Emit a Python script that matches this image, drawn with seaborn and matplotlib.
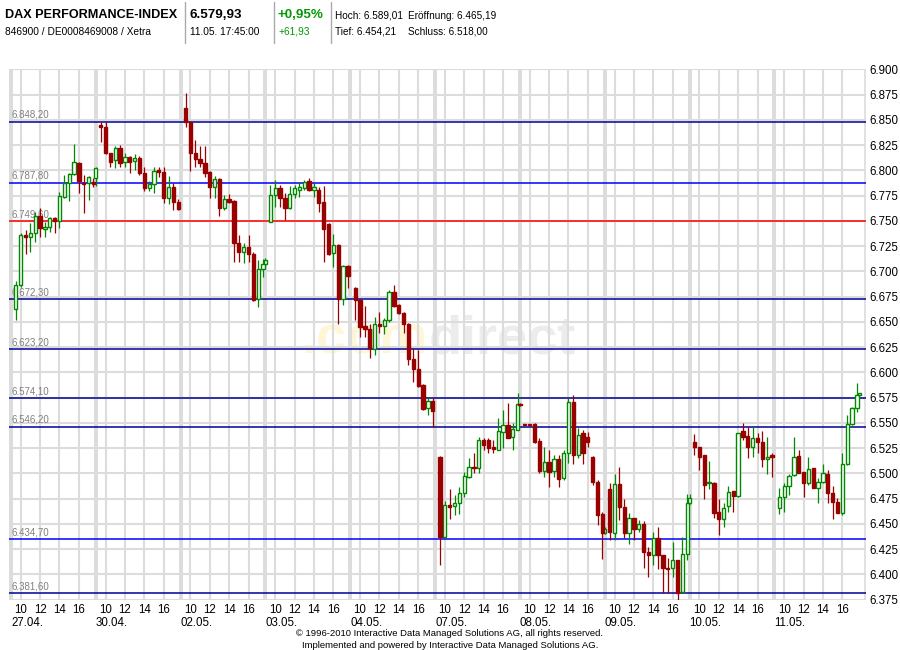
import numpy as np
import pandas as pd
import matplotlib
matplotlib.use("Agg")
import matplotlib.pyplot as plt
import matplotlib.transforms as mtransforms
import seaborn as sns

# ---------------- data ----------------
day_labels = ["27.04.", "30.04.", "02.05.", "03.05.", "04.05.",
              "07.05.", "08.05.", "09.05.", "10.05.", "11.05."]
hour_labels = ["10", "12", "14", "16"]
hour_values = [10, 12, 14, 16]
candles_per_day = [18, 17, 18, 17, 17, 18, 18, 18, 17, 18]

open_ = [
    6663, 6686, 6736, 6734, 6738, 6755, 6742, 6744, 6753, 6750, 6774, 6787, 6796, 6807, 6787, 6787, 6788, 6792,
    6845, 6843, 6817, 6810, 6822, 6808, 6813, 6809, 6812, 6797, 6782, 6786, 6800, 6798, 6773, 6783, 6769,
    6862, 6848, 6817, 6811, 6807, 6798, 6783, 6791, 6763, 6772, 6770, 6728, 6719, 6724, 6717, 6673, 6702, 6707,
    6749, 6776, 6782, 6773, 6763, 6777, 6781, 6782, 6789, 6781, 6781, 6769, 6747, 6718, 6726, 6673, 6705,
    6683, 6672, 6646, 6643, 6623, 6648, 6646, 6652, 6680, 6667, 6659, 6648, 6613, 6603, 6587, 6565, 6572,
    6516, 6437, 6469, 6468, 6471, 6481, 6496, 6506, 6505, 6533, 6533, 6526, 6523, 6541, 6548, 6536, 6543, 6569,
    6549, 6549, 6549, 6532, 6502, 6511, 6502, 6514, 6495, 6520, 6571, 6518, 6540, 6536, 6516, 6491, 6460, 6441,
    6484, 6441, 6489, 6467, 6441, 6456, 6445, 6450, 6422, 6419, 6436, 6419, 6406, 6406, 6414, 6383, 6420, 6471,
    6531, 6526, 6518, 6490, 6490, 6462, 6455, 6468, 6483, 6478, 6542, 6537, 6526, 6535, 6531, 6514, 6518,
    6466, 6477, 6487, 6498, 6517, 6501, 6490, 6505, 6485, 6491, 6499, 6481, 6472, 6461, 6509, 6549, 6565, 6578,
]
high = [
    6690, 6738, 6741, 6748, 6759, 6763, 6749, 6754, 6754, 6779, 6795, 6797, 6826, 6808, 6795, 6794, 6792, 6803,
    6848, 6848, 6817, 6824, 6825, 6817, 6814, 6816, 6814, 6803, 6789, 6803, 6803, 6803, 6794, 6787, 6772,
    6877, 6849, 6830, 6824, 6824, 6799, 6794, 6792, 6776, 6777, 6771, 6736, 6728, 6736, 6719, 6711, 6712, 6713,
    6785, 6790, 6785, 6778, 6784, 6785, 6788, 6790, 6792, 6787, 6783, 6784, 6748, 6737, 6727, 6706, 6706,
    6684, 6673, 6666, 6648, 6655, 6660, 6654, 6682, 6686, 6668, 6660, 6649, 6624, 6622, 6588, 6576, 6575,
    6517, 6473, 6484, 6479, 6486, 6501, 6515, 6520, 6536, 6535, 6535, 6533, 6555, 6563, 6570, 6550, 6580, 6570,
    6549, 6549, 6550, 6535, 6526, 6523, 6518, 6518, 6523, 6575, 6578, 6545, 6543, 6541, 6517, 6493, 6462, 6447,
    6490, 6499, 6506, 6475, 6461, 6456, 6454, 6453, 6427, 6442, 6447, 6419, 6416, 6432, 6414, 6437, 6480, 6480,
    6539, 6526, 6518, 6512, 6491, 6475, 6471, 6487, 6483, 6540, 6550, 6546, 6546, 6540, 6542, 6536, 6520,
    6485, 6490, 6499, 6536, 6523, 6501, 6516, 6505, 6495, 6509, 6503, 6487, 6476, 6520, 6558, 6566, 6589, 6580,
]
low = [
    6652, 6684, 6717, 6719, 6729, 6734, 6734, 6739, 6738, 6743, 6773, 6770, 6795, 6778, 6758, 6771, 6783, 6784,
    6828, 6816, 6803, 6802, 6803, 6803, 6797, 6800, 6795, 6780, 6780, 6778, 6793, 6768, 6767, 6761, 6761,
    6843, 6799, 6803, 6803, 6793, 6773, 6773, 6755, 6761, 6768, 6709, 6709, 6708, 6709, 6671, 6665, 6694, 6705,
    6749, 6764, 6764, 6751, 6762, 6773, 6774, 6781, 6780, 6774, 6759, 6709, 6716, 6704, 6648, 6667, 6683,
    6652, 6635, 6635, 6614, 6617, 6639, 6638, 6650, 6665, 6658, 6639, 6607, 6590, 6585, 6563, 6558, 6546,
    6409, 6436, 6455, 6459, 6460, 6477, 6495, 6500, 6500, 6523, 6520, 6520, 6523, 6525, 6535, 6523, 6543, 6567,
    6548, 6548, 6530, 6500, 6496, 6486, 6496, 6486, 6493, 6510, 6509, 6515, 6509, 6526, 6488, 6449, 6415, 6440,
    6434, 6434, 6454, 6436, 6430, 6434, 6442, 6406, 6397, 6409, 6405, 6382, 6382, 6397, 6375, 6382, 6414, 6470,
    6518, 6503, 6475, 6484, 6456, 6439, 6447, 6462, 6462, 6477, 6533, 6515, 6516, 6520, 6506, 6499, 6496,
    6460, 6462, 6479, 6497, 6500, 6477, 6488, 6485, 6471, 6490, 6471, 6455, 6461, 6459, 6508, 6548, 6561, 6578,
]
close = [
    6686, 6736, 6734, 6738, 6755, 6743, 6744, 6753, 6750, 6775, 6787, 6796, 6808, 6789, 6786, 6793, 6786, 6802,
    6843, 6817, 6808, 6822, 6807, 6813, 6808, 6812, 6797, 6782, 6786, 6799, 6798, 6773, 6783, 6769, 6762,
    6848, 6817, 6811, 6807, 6797, 6783, 6791, 6763, 6772, 6769, 6728, 6719, 6724, 6717, 6672, 6702, 6707, 6711,
    6776, 6782, 6773, 6763, 6777, 6782, 6783, 6788, 6781, 6783, 6768, 6742, 6717, 6726, 6673, 6705, 6695,
    6672, 6645, 6643, 6624, 6648, 6646, 6652, 6680, 6666, 6659, 6648, 6613, 6603, 6586, 6564, 6572, 6562,
    6437, 6469, 6467, 6471, 6481, 6497, 6506, 6505, 6533, 6528, 6525, 6524, 6542, 6548, 6535, 6544, 6569, 6568,
    6548, 6548, 6531, 6502, 6511, 6501, 6514, 6494, 6520, 6571, 6518, 6538, 6520, 6531, 6491, 6459, 6441, 6445,
    6442, 6489, 6467, 6441, 6456, 6445, 6450, 6422, 6419, 6436, 6419, 6406, 6405, 6414, 6382, 6420, 6471, 6476,
    6526, 6516, 6488, 6491, 6461, 6455, 6466, 6482, 6478, 6540, 6536, 6526, 6535, 6531, 6514, 6516, 6516,
    6477, 6487, 6497, 6516, 6500, 6490, 6504, 6485, 6491, 6500, 6481, 6472, 6461, 6509, 6549, 6565, 6578, 6580,
]

level_values = [6848.20, 6787.80, 6749.60, 6672.30, 6623.20, 6574.10, 6546.20, 6434.70, 6381.60]
level_labels = ["6.848,20", "6.787,80", "6.749,60", "6.672,30", "6.623,20",
                "6.574,10", "6.546,20", "6.434,70", "6.381,60"]
level_colors = ["#00009a", "#0000ff", "#ff0000", "#00009a", "#00009a",
                "#00009a", "#00009a", "#0000ff", "#00009a"]

y_ticks = list(range(6375, 6901, 25))

# ---------------- build table ----------------
DAY_LEN = 8.75          # 09:00 - 17:45
times = []
for d, n in enumerate(candles_per_day):
    for k in range(n):
        off = 0.5 * (k + 1) if k < 17 else 8.75
        times.append(d * DAY_LEN + off)
df = pd.DataFrame({"t": times, "open": open_, "high": high, "low": low, "close": close})
df["up"] = df["close"] >= df["open"]

# ---------------- style ----------------
sns.set_theme(style="white")
plt.rcParams["font.family"] = ["Liberation Sans", "DejaVu Sans"]

W, H = 900, 650
fig = plt.figure(figsize=(9, 6.5), dpi=100)
fig.patch.set_facecolor("white")

px_left, px_right, px_top, px_bot = 9, 866, 69.3, 599.6
ax = fig.add_axes([px_left / W, 1 - px_bot / H, (px_right - px_left) / W, (px_bot - px_top) / H])
ax.set_facecolor("white")
px_per_h = 84.83 / DAY_LEN
ax.set_xlim(-(11 - px_left) / px_per_h, (px_right - 11) / px_per_h)
ax.set_ylim(6375, 6900)
for s in ax.spines.values():
    s.set_visible(False)

grid_c = "#dcdcdc"
for yv in y_ticks:
    ax.axhline(yv, color=grid_c, lw=1.5, zorder=0.5)
for d in range(len(day_labels)):
    for hv in hour_values:
        ax.axvline(d * DAY_LEN + (hv - 9), color=grid_c, lw=1.5, zorder=0.5)
    ax.axvline(d * DAY_LEN, color=grid_c, lw=2.8, zorder=0.6)
ax.axvline(ax.get_xlim()[1] - 0.1, color=grid_c, lw=1.2, zorder=0.6)

# watermark (behind grid)
ax.text(428 / W, 1 - 354 / H, ".com", fontsize=39, fontweight="bold",
        color="#fff6d8", ha="right", va="baseline", transform=fig.transFigure, zorder=0.3)
ax.text(429 / W, 1 - 354 / H, "direct", fontsize=39, fontweight="bold",
        color="#ececec", ha="left", va="baseline", transform=fig.transFigure, zorder=0.3)

# levels
trans_lbl = mtransforms.blended_transform_factory(ax.transAxes, ax.transData)
for v, lab, c in zip(level_values, level_labels, level_colors):
    ax.axhline(v, color=c, lw=1.1, zorder=2)
    ax.text(3.0 / (px_right - px_left), v + 1.8, lab, transform=trans_lbl,
            fontsize=7, color="#808080", ha="left", va="bottom", zorder=2)

# candles
green, red = "#008800", "#990000"
up = df[df["up"]]
dn = df[~df["up"]]
ax.vlines(up["t"], up["low"], up["high"], color=green, lw=0.9, zorder=3)
ax.vlines(dn["t"], dn["low"], dn["high"], color=red, lw=0.9, zorder=3)
bw = 0.34
ax.bar(up["t"], np.maximum(up["close"] - up["open"], 0.8), bottom=up["open"], width=bw,
       facecolor="white", edgecolor=green, linewidth=1.0, zorder=4)
ax.bar(dn["t"], np.maximum(dn["open"] - dn["close"], 0.8), bottom=dn["close"], width=bw,
       facecolor=red, edgecolor=red, linewidth=1.0, zorder=4)

# axes ticks
ax.yaxis.tick_right()
ax.set_yticks(y_ticks)
ax.set_yticklabels([f"{v/1000:.3f}" for v in y_ticks], fontsize=8.3, color="black")
ax.tick_params(axis="y", length=0, pad=2.5)

xt, xl = [], []
for d in range(len(day_labels)):
    for hv, hl in zip(hour_values, hour_labels):
        xt.append(d * DAY_LEN + (hv - 9))
        xl.append(hl)
ax.set_xticks(xt)
ax.set_xticklabels(xl, fontsize=8.3, color="black")
ax.tick_params(axis="x", length=0, pad=3)
trans_x = mtransforms.blended_transform_factory(ax.transData, fig.transFigure)
for d, lab in enumerate(day_labels):
    ax.text(d * DAY_LEN, 1 - 622.5 / H, lab, transform=trans_x, fontsize=8.3,
            ha="left", va="center", color="black")

# header
def ft(x, y, s, **kw):
    fig.text(x / W, 1 - y / H, s, va="center", ha="left", **kw)

ft(5, 14.5, "DAX PERFORMANCE-INDEX", fontsize=9.1, fontweight="bold", color="black")
ft(5, 32, "846900 / DE0008469008 / Xetra", fontsize=7.3, color="black")
ft(190, 14.5, "6.579,93", fontsize=9.6, fontweight="bold", color="black")
ft(190, 32, "11.05. 17:45:00", fontsize=7.3, color="black")
ft(278, 14.5, "+0,95%", fontsize=9.6, fontweight="bold", color="#009900")
ft(278, 32, "+61,93", fontsize=7.3, color="#009900")
ft(335, 16, "Hoch: 6.589,01", fontsize=7.2, color="black")
ft(408, 16, "Eröffnung: 6.465,19", fontsize=7.2, color="black")
ft(335, 32, "Tief: 6.454,21", fontsize=7.2, color="black")
ft(408, 32, "Schluss: 6.518,00", fontsize=7.2, color="black")
for xs in (185, 274, 331):
    fig.add_artist(plt.Line2D([xs / W, xs / W], [1 - 2 / H, 1 - 43 / H],
                              color="#aaaaaa", lw=1, transform=fig.transFigure))

# footer
fig.text(450 / W, 1 - 634 / H, "© 1996-2010 Interactive Data Managed Solutions AG, all rights reserved.",
         fontsize=6.8, ha="center", va="center", color="black")
fig.text(450 / W, 1 - 645 / H, "Implemented and powered by Interactive Data Managed Solutions AG.",
         fontsize=6.8, ha="center", va="center", color="black")

fig.savefig("out.png", dpi=100, facecolor="white")
